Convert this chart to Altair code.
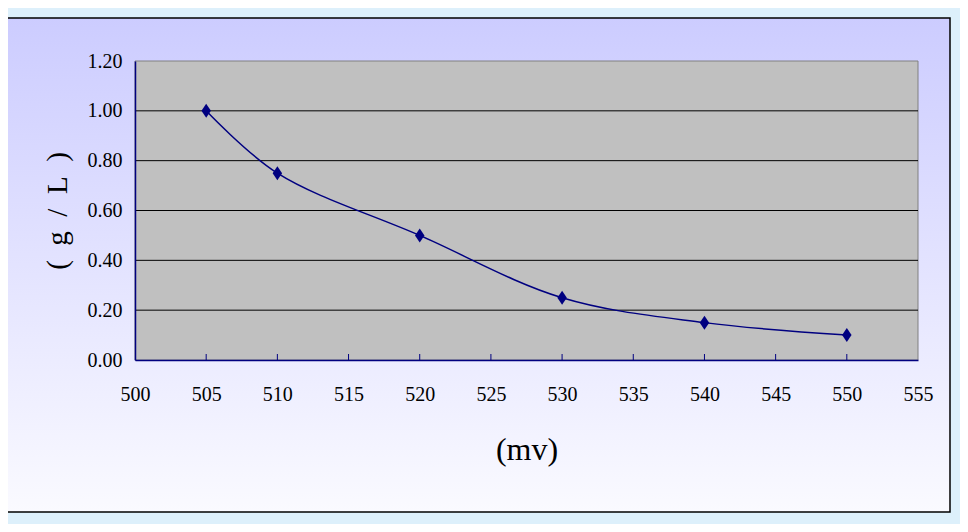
import altair as alt
import pandas as pd

# data
mv = [505, 510, 520, 530, 540, 550]
conc = [1.00, 0.75, 0.50, 0.25, 0.15, 0.10]
x_ticks = [500, 505, 510, 515, 520, 525, 530, 535, 540, 545, 550, 555]
y_ticks = [0.0, 0.2, 0.4, 0.6, 0.8, 1.0, 1.2]
grid_vals = [0.2, 0.4, 0.6, 0.8, 1.0]

W, H = 783, 299
FONT = "Liberation Serif"

df = pd.DataFrame({"mv": mv, "conc": conc})
grid_df = pd.DataFrame({"y": grid_vals})
tick_df = pd.DataFrame({"x": x_ticks[1:-1]})
one = pd.DataFrame({"a": [0]})

xscale = alt.Scale(domain=[500, 555], nice=False, zero=False)
yscale = alt.Scale(domain=[0, 1.2], nice=False, zero=True)

xaxis = alt.Axis(values=x_ticks, title="(mv)", titleFont=FONT, titleFontSize=32,
                 titleFontWeight="normal", titleColor="black", titlePadding=30,
                 labelFont=FONT, labelFontSize=20, labelColor="black", labelPadding=24,
                 labelFlush=False, labelOverlap=False,
                 ticks=False, grid=False, domainColor="#000080", domainWidth=1.5,
                 zindex=1)
yaxis = alt.Axis(values=y_ticks, format=".2f", title="(\u2002g\u2002/\u2002L\u2002)",
                 titleFont=FONT, titleFontSize=29, titleFontWeight="normal",
                 titleColor="black", titlePadding=15,
                 labelFont=FONT, labelFontSize=20, labelColor="black", labelPadding=13,
                 labelFlush=False, labelOverlap=False,
                 ticks=False, grid=False, domainColor="#000080", domainWidth=1.5,
                 zindex=1)

bg = alt.Chart(one).mark_rect(
    color=alt.Gradient(gradient="linear",
                       stops=[alt.GradientStop(color="#CCCCFF", offset=0),
                              alt.GradientStop(color="#FAFAFF", offset=1)],
                       x1=0, x2=0, y1=0, y2=1),
    stroke="black", strokeWidth=1.5
).encode(x=alt.value(-128), x2=alt.value(815), y=alt.value(-43), y2=alt.value(451))

plot_bg = alt.Chart(one).mark_rect(color="#C0C0C0", stroke="#808080", strokeWidth=1).encode(
    x=alt.value(0), x2=alt.value(W), y=alt.value(0), y2=alt.value(H))

grid = alt.Chart(grid_df).mark_rule(color="black", strokeWidth=1).encode(
    y=alt.Y("y:Q", scale=yscale, axis=yaxis),
    x=alt.value(0), x2=alt.value(W))

ticks = alt.Chart(tick_df).mark_rule(color="#000080", strokeWidth=1).encode(
    x=alt.X("x:Q", scale=xscale, axis=xaxis),
    y=alt.value(H), y2=alt.value(H - 6))

line = alt.Chart(df).mark_line(interpolate="catmull-rom", color="#000080", strokeWidth=1.5).encode(
    x=alt.X("mv:Q", scale=xscale, axis=xaxis),
    y=alt.Y("conc:Q", scale=yscale, axis=yaxis))

pts = alt.Chart(df).mark_point(shape="M0,-1.4L0.95,0L0,1.4L-0.95,0Z", filled=True, size=100,
                               color="#000080", opacity=1).encode(
    x=alt.X("mv:Q", scale=xscale, axis=xaxis),
    y=alt.Y("conc:Q", scale=yscale, axis=yaxis))

chart = alt.layer(bg, plot_bg, grid, ticks, line, pts).resolve_scale(
    x="shared", y="shared"
).properties(
    width=W, height=H,
    autosize=alt.AutoSizeParams(type="none"),
    padding={"left": 127, "top": 53, "right": 42, "bottom": 164},
    background="#DDF0FB"
).configure_view(strokeWidth=0)

chart.save("out.html", embed_options={"renderer": "svg", "actions": False})
